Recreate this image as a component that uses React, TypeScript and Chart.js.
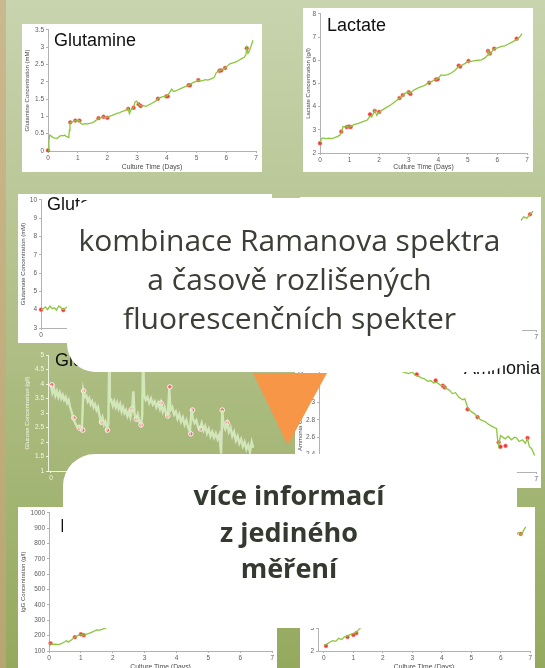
import React, { useEffect, useRef } from "react";
import { Chart, registerables } from "chart.js";
Chart.register(...registerables);

type Pt = [number, number];

const dayTicks = [0, 1, 2, 3, 4, 5, 6, 7];
const xAxisTitle = "Culture Time (Days)";

// ---------- Glutamine ----------
const glutamineTicks = [0, 0.5, 1, 1.5, 2, 2.5, 3, 3.5];
const glutamineTrace: Pt[] = [
  [0, 0.02], [0.03, 0.3], [0.06, 0.46], [0.1, 0.44], [0.15, 0.4], [0.2, 0.38], [0.25, 0.37], [0.3, 0.36],
  [0.35, 0.4], [0.4, 0.43], [0.45, 0.45], [0.5, 0.44], [0.55, 0.46], [0.6, 0.43], [0.65, 0.41], [0.7, 0.39],
  [0.72, 0.6], [0.74, 0.82], [0.8, 0.84], [0.86, 0.85], [0.92, 0.88], [1.0, 0.87], [1.06, 0.88], [1.1, 0.8],
  [1.16, 0.77], [1.24, 0.79], [1.32, 0.78], [1.4, 0.8], [1.48, 0.81], [1.56, 0.85], [1.64, 0.9], [1.7, 0.95],
  [1.78, 0.96], [1.87, 0.99], [1.94, 0.96], [2.0, 0.97], [2.08, 1.01], [2.16, 1.03], [2.24, 1.06], [2.32, 1.09],
  [2.4, 1.1], [2.48, 1.14], [2.56, 1.16], [2.64, 1.19], [2.7, 1.22], [2.74, 1.08], [2.8, 1.2], [2.88, 1.26],
  [2.93, 1.42], [2.98, 1.44], [3.03, 1.38], [3.08, 1.32], [3.14, 1.3], [3.22, 1.31], [3.3, 1.29], [3.38, 1.33],
  [3.46, 1.36], [3.54, 1.4], [3.62, 1.44], [3.7, 1.51], [3.78, 1.54], [3.86, 1.57], [3.94, 1.58], [4.02, 1.6],
  [4.1, 1.7], [4.16, 1.79], [4.22, 1.72], [4.3, 1.74], [4.38, 1.77], [4.46, 1.8], [4.54, 1.83], [4.62, 1.86],
  [4.7, 1.89], [4.78, 1.91], [4.86, 1.97], [4.94, 2.0], [5.02, 2.02], [5.06, 2.05], [5.14, 2.02], [5.22, 2.04],
  [5.3, 2.06], [5.38, 2.05], [5.46, 2.08], [5.54, 2.1], [5.6, 2.14], [5.66, 2.26], [5.72, 2.3], [5.8, 2.33],
  [5.88, 2.36], [5.96, 2.4], [6.04, 2.46], [6.12, 2.52], [6.2, 2.54], [6.28, 2.56], [6.36, 2.59], [6.44, 2.63],
  [6.52, 2.67], [6.6, 2.71], [6.66, 2.78], [6.69, 2.97], [6.73, 2.82], [6.78, 2.9], [6.84, 3.05], [6.9, 3.2],
];
const glutamineMarkers: Pt[] = [
  [0, 0.02], [0.75, 0.83], [0.92, 0.88], [1.06, 0.88], [1.7, 0.95], [1.87, 0.99], [2.0, 0.96], [2.7, 1.22],
  [2.88, 1.25], [3.05, 1.35], [3.12, 1.3], [3.7, 1.51], [3.98, 1.58], [4.03, 1.58], [4.73, 1.9], [4.78, 1.9],
  [5.06, 2.05], [5.77, 2.32], [5.83, 2.33], [5.96, 2.4], [6.69, 2.97],
];

// ---------- Lactate ----------
const lactateTicks = [2, 3, 4, 5, 6, 7, 8];
const lactateTrace: Pt[] = [
  [0, 2.45], [0.05, 2.62], [0.1, 2.65], [0.2, 2.62], [0.3, 2.64], [0.4, 2.62], [0.5, 2.66], [0.6, 2.72],
  [0.68, 2.78], [0.74, 2.94], [0.78, 3.15], [0.85, 3.14], [0.95, 3.12], [1.05, 3.14], [1.15, 3.22], [1.3, 3.28],
  [1.45, 3.35], [1.6, 3.42], [1.69, 3.6], [1.75, 3.55], [1.85, 3.84], [1.92, 3.62], [2.0, 3.76], [2.1, 3.85],
  [2.25, 3.97], [2.4, 4.08], [2.5, 4.18], [2.6, 4.28], [2.69, 4.37], [2.75, 4.4], [2.83, 4.53], [2.92, 4.6],
  [3.0, 4.63], [3.06, 4.57], [3.15, 4.7], [3.3, 4.8], [3.45, 4.87], [3.55, 4.93], [3.69, 5.05], [3.8, 5.1],
  [3.92, 5.18], [4.0, 5.22], [4.09, 5.37], [4.2, 5.35], [4.32, 5.38], [4.45, 5.46], [4.55, 5.55], [4.65, 5.68],
  [4.72, 5.75], [4.83, 5.8], [4.95, 5.9], [5.02, 5.96], [5.12, 5.95], [5.23, 5.98], [5.35, 6.0], [5.46, 6.02],
  [5.58, 6.1], [5.65, 6.2], [5.68, 6.4], [5.74, 6.25], [5.8, 6.35], [5.89, 6.49], [6.0, 6.53], [6.14, 6.6],
  [6.25, 6.62], [6.37, 6.7], [6.5, 6.78], [6.6, 6.86], [6.68, 6.92], [6.75, 7.0], [6.83, 7.15],
];
const lactateMarkers: Pt[] = [
  [0, 2.42], [0.72, 2.92], [0.9, 3.12], [0.98, 3.14], [1.04, 3.12], [1.69, 3.67], [1.85, 3.82], [2.0, 3.77],
  [2.69, 4.37], [2.8, 4.5], [3.0, 4.62], [3.06, 4.55], [3.69, 5.03], [3.92, 5.17], [3.98, 5.18], [4.69, 5.77],
  [4.74, 5.73], [5.02, 5.97], [5.68, 6.4], [5.75, 6.29], [5.89, 6.5], [6.65, 6.93],
];

// ---------- Glutamate ----------
const glutamateTicks = [3, 4, 5, 6, 7, 8, 9, 10];
const glutamateTrace: Pt[] = [
  [0, 4.0], [0.08, 4.05], [0.15, 4.15], [0.22, 4.0], [0.3, 4.2], [0.38, 4.05], [0.45, 4.1], [0.52, 3.98],
  [0.6, 4.2], [0.68, 4.1], [0.75, 4.0], [1.0, 4.3], [1.5, 4.8], [2.0, 5.3], [3.0, 6.0], [4.0, 6.9],
  [5.0, 7.7], [6.0, 8.4], [6.9, 9.1],
];
const glutamateMarkers: Pt[] = [[0, 4.0], [0.75, 3.98], [1.0, 4.3], [2.0, 5.3], [3.0, 6.0]];

// ---------- Glucose ----------
const glucoseTicks = [1, 1.5, 2, 2.5, 3, 3.5, 4, 4.5, 5];
const glucoseTrace: Pt[] = [
  [0, 3.97], [0.05, 3.7], [0.1, 3.85], [0.15, 3.6], [0.2, 3.75], [0.25, 3.55], [0.3, 3.7], [0.35, 3.5],
  [0.4, 3.62], [0.45, 3.45], [0.5, 3.55], [0.55, 3.35], [0.6, 3.45], [0.65, 3.2], [0.7, 3.05], [0.75, 2.85],
  [0.8, 2.7], [0.85, 2.6], [0.9, 2.5], [0.95, 2.55], [1.0, 2.45], [1.05, 2.42], [1.1, 3.78], [1.15, 3.55],
  [1.2, 3.6], [1.25, 3.4], [1.3, 3.5], [1.35, 3.3], [1.4, 3.4], [1.45, 3.2], [1.5, 3.3], [1.55, 3.1],
  [1.6, 3.2], [1.65, 2.9], [1.7, 2.7], [1.75, 2.85], [1.8, 2.6], [1.85, 2.7], [1.9, 2.45], [1.95, 2.6],
  [1.98, 5.0], [2.0, 3.4], [2.05, 3.45], [2.1, 3.25], [2.15, 3.4], [2.2, 3.2], [2.25, 3.35], [2.3, 3.15],
  [2.35, 3.3], [2.4, 3.05], [2.45, 3.2], [2.5, 3.0], [2.55, 3.1], [2.6, 2.9], [2.65, 3.05], [2.7, 2.85],
  [2.76, 3.14], [2.8, 3.75], [2.84, 2.95], [2.9, 2.8], [2.95, 2.95], [3.0, 2.7], [3.06, 2.6], [3.1, 2.9],
  [3.13, 5.0], [3.17, 3.6], [3.22, 3.45], [3.28, 3.55], [3.34, 3.35], [3.4, 3.5], [3.46, 3.3], [3.52, 3.4],
  [3.58, 3.2], [3.64, 3.35], [3.7, 3.15], [3.74, 3.34], [3.8, 3.05], [3.86, 3.2], [3.92, 2.95], [3.97, 2.9],
  [4.02, 3.85], [4.06, 3.1], [4.12, 3.2], [4.18, 2.95], [4.24, 3.05], [4.3, 2.8], [4.36, 2.95], [4.42, 2.7],
  [4.48, 2.85], [4.54, 2.6], [4.6, 2.75], [4.66, 2.5], [4.72, 2.35], [4.78, 3.15], [4.82, 2.8], [4.88, 2.65],
  [4.94, 2.75], [5.0, 2.5], [5.06, 2.45], [5.12, 2.65], [5.18, 2.4], [5.24, 2.55], [5.3, 2.3], [5.36, 2.45],
  [5.42, 2.2], [5.48, 2.35], [5.54, 2.15], [5.6, 2.3], [5.66, 2.1], [5.72, 2.25], [5.78, 1.6], [5.82, 3.1],
  [5.86, 2.6], [5.92, 2.45], [5.99, 2.66], [6.04, 2.35], [6.1, 2.5], [6.16, 2.2], [6.22, 2.35], [6.28, 2.05],
  [6.34, 2.2], [6.4, 1.95], [6.46, 2.1], [6.52, 1.85], [6.58, 2.0], [6.64, 1.75], [6.7, 1.9], [6.76, 1.65],
  [6.82, 2.0], [6.87, 1.8],
];
const glucoseMarkers: Pt[] = [
  [0.03, 3.97], [0.78, 2.83], [0.98, 2.48], [1.08, 2.41], [1.11, 3.76], [1.72, 2.69], [1.92, 2.41], [2.76, 3.14],
  [2.9, 2.79], [3.06, 2.59], [3.74, 3.34], [3.97, 2.9], [4.04, 3.9], [4.75, 2.28], [4.81, 3.1], [5.08, 2.45],
  [5.82, 3.1], [5.99, 2.66],
];

// ---------- Ammonia ----------
const ammoniaTicks = [2.2, 2.4, 2.6, 2.8, 3, 3.2, 3.4, 3.6];
const ammoniaTrace: Pt[] = [
  [0, 3.62], [0.5, 3.57], [1, 3.53], [1.5, 3.49], [2, 3.44], [2.5, 3.38], [2.77, 3.34], [2.9, 3.33],
  [3.0, 3.35], [3.1, 3.31], [3.2, 3.3], [3.3, 3.28], [3.4, 3.27], [3.5, 3.24], [3.6, 3.25], [3.7, 3.22],
  [3.79, 3.23], [3.9, 3.2], [4.0, 3.19], [4.1, 3.16], [4.2, 3.14], [4.3, 3.1], [4.4, 3.11], [4.5, 3.06],
  [4.63, 3.03], [4.7, 3.04], [4.8, 2.93], [4.92, 2.89], [5.0, 2.87], [5.1, 2.84], [5.2, 2.8], [5.27, 2.79],
  [5.35, 2.78], [5.45, 2.75], [5.55, 2.73], [5.65, 2.71], [5.72, 2.7], [5.76, 2.56], [5.79, 2.5], [5.85, 2.62],
  [5.92, 2.6], [6.0, 2.58], [6.1, 2.61], [6.2, 2.57], [6.3, 2.6], [6.37, 2.59], [6.45, 2.55], [6.56, 2.57],
  [6.65, 2.53], [6.72, 2.58], [6.78, 2.49], [6.85, 2.47], [6.95, 2.39],
];
const ammoniaMarkers: Pt[] = [
  [0.75, 3.55], [1.0, 3.53], [2.0, 3.44], [3.15, 3.32], [3.76, 3.25], [3.99, 3.19], [4.05, 3.17], [4.79, 2.92],
  [5.11, 2.83], [5.79, 2.54], [5.85, 2.49], [6.01, 2.5], [6.72, 2.59],
];

// ---------- Second-row right panel (mostly covered) ----------
const rowTwoTicks = [0, 2, 4, 6, 8, 10];
const rowTwoTrace: Pt[] = [
  [0, 1.0], [1, 2.2], [2, 3.5], [3, 4.8], [4, 6.0], [5, 7.1], [6, 8.1], [6.5, 8.6], [6.6, 8.9],
  [6.7, 8.8], [6.8, 9.1], [6.9, 9.35],
];
const rowTwoMarkers: Pt[] = [[1, 2.2], [3, 4.8], [6.8, 9.1]];

// ---------- IgG ----------
const iggTicks = [100, 200, 300, 400, 500, 600, 700, 800, 900, 1000];
const iggTrace: Pt[] = [
  [0, 148], [0.1, 143], [0.2, 145], [0.3, 142], [0.4, 150], [0.5, 160], [0.55, 168], [0.6, 158], [0.7, 172],
  [0.8, 188], [0.9, 200], [1.0, 207], [1.1, 204], [1.2, 212], [1.3, 218], [1.4, 228], [1.5, 238], [1.6, 236],
  [1.7, 244], [2.0, 268], [3.0, 340], [4.0, 440], [5.0, 570], [6.0, 720], [6.8, 860],
];
const iggMarkers: Pt[] = [[0.05, 150], [0.81, 190], [1.0, 209], [1.09, 203], [2.0, 268], [3.0, 340]];

// ---------- Bottom-right panel (mostly covered) ----------
const bottomRightTicks = [2, 3, 4, 5, 6, 7, 8];
const bottomRightTrace: Pt[] = [
  [0, 2.25], [0.1, 2.3], [0.2, 2.38], [0.3, 2.45], [0.4, 2.42], [0.5, 2.55], [0.6, 2.5], [0.7, 2.62],
  [0.8, 2.65], [0.9, 2.72], [1.0, 2.75], [1.1, 2.82], [1.2, 2.95], [1.3, 3.08], [2, 3.6], [3, 4.3],
  [4, 5.1], [5, 5.9], [6, 6.6], [6.4, 6.95], [6.5, 7.0], [6.6, 7.15], [6.7, 7.05], [6.8, 7.3], [6.85, 7.4],
];
const bottomRightMarkers: Pt[] = [[0.07, 2.22], [0.8, 2.61], [1.0, 2.7], [1.1, 2.78], [6.68, 7.09]];

// ---------- panel layout (page pixel boxes) ----------
interface Spec {
  key: string;
  box: [number, number, number, number]; // left, top, right, bottom
  plot: [number, number, number, number]; // left, top, right, bottom
  xMin: number;
  yTicks: number[];
  trace: Pt[];
  markers: Pt[];
  yTitle?: string;
  xTitle?: string;
  title?: { text: string; x: number; y: number };
  onGreen?: boolean;
}

const panels: Spec[] = [
  { key: "gln", box: [22, 24, 262, 172], plot: [48, 27, 256, 151], xMin: 0, yTicks: glutamineTicks,
    trace: glutamineTrace, markers: glutamineMarkers, yTitle: "Glutamine Concentration (mM)", xTitle: xAxisTitle,
    title: { text: "Glutamine", x: 54, y: 31 } },
  { key: "lac", box: [303, 8, 533, 172], plot: [320, 11, 527, 153], xMin: 0, yTicks: lactateTicks,
    trace: lactateTrace, markers: lactateMarkers, yTitle: "Lactate Concentration (g/l)", xTitle: xAxisTitle,
    title: { text: "Lactate", x: 327, y: 16 } },
  { key: "glu", box: [18, 194, 272, 343], plot: [41, 197, 249, 328], xMin: 0, yTicks: glutamateTicks,
    trace: glutamateTrace, markers: glutamateMarkers, yTitle: "Glutamate Concentration (mM)", xTitle: xAxisTitle,
    title: { text: "Glutamate", x: 47, y: 195 } },
  { key: "r2", box: [300, 197, 541, 343], plot: [319, 200, 537, 330], xMin: 0, yTicks: rowTwoTicks,
    trace: rowTwoTrace, markers: rowTwoMarkers, xTitle: xAxisTitle },
  { key: "glc", box: [22, 343, 262, 493], plot: [48, 355, 257, 471], xMin: -0.1, yTicks: glucoseTicks,
    trace: glucoseTrace, markers: glucoseMarkers, yTitle: "Glucose Concentration (g/l)", xTitle: xAxisTitle,
    title: { text: "Glucose", x: 55, y: 351 }, onGreen: true },
  { key: "nh4", box: [295, 343, 541, 488], plot: [319, 350, 537, 472], xMin: 0, yTicks: ammoniaTicks,
    trace: ammoniaTrace, markers: ammoniaMarkers, yTitle: "Ammonia Concentration (mM)", xTitle: xAxisTitle,
    title: { text: "Ammonia", x: 464, y: 359 } },
  { key: "igg", box: [18, 507, 277, 672], plot: [49, 511, 274, 651], xMin: 0, yTicks: iggTicks,
    trace: iggTrace, markers: iggMarkers, yTitle: "IgG Concentration (g/l)", xTitle: xAxisTitle,
    title: { text: "IgG", x: 60, y: 517 } },
  { key: "br", box: [300, 507, 535, 672], plot: [318, 513, 533, 651], xMin: -0.2, yTicks: bottomRightTicks,
    trace: bottomRightTrace, markers: bottomRightMarkers, xTitle: xAxisTitle },
];

const FONT = "'Liberation Sans', Arial, sans-serif";

function Panel({ s }: { s: Spec }) {
  const ref = useRef<HTMLCanvasElement>(null);
  const [bl, bt, br, bb] = s.box;
  const [pl, pt, pr, pb] = s.plot;
  const w = br - bl;
  const h = bb - bt;

  useEffect(() => {
    if (!ref.current) return;
    const tickColor = s.onGreen ? "#f3f6ea" : "#5c5c5c";
    const axisColor = s.onGreen ? "#eef3e0" : "#b2b2b2";
    const titleColor = s.onGreen ? "#f3f6ea" : "#4a4a4a";
    const lineData = s.trace.map(([x, y]) => ({ x, y }));
    const markData = s.markers.map(([x, y]) => ({ x, y }));
    const datasets: any[] = [];
    if (s.onGreen) {
      datasets.push({ data: lineData, showLine: true, borderColor: "rgba(255,255,255,0.55)", borderWidth: 2.4,
        pointRadius: 0, tension: 0 });
    }
    datasets.push({ data: lineData, showLine: true, borderColor: s.onGreen ? "#92d255" : "#8cc63f",
      borderWidth: s.onGreen ? 1.1 : 1.3, pointRadius: 0, tension: 0 });
    datasets.push({ data: markData, showLine: false, pointRadius: s.onGreen ? 2.3 : 1.9,
      pointBackgroundColor: s.onGreen ? "#f06a6a" : "#f23535",
      pointBorderColor: s.onGreen ? "rgba(255,255,255,0.9)" : "rgba(255,110,110,0.7)", pointBorderWidth: s.onGreen ? 1 : 0.8,
      clip: 4 });
    const yT = s.yTicks;
    const chart = new Chart(ref.current, {
      type: "scatter",
      data: { datasets },
      options: {
        responsive: false,
        animation: false,
        events: [],
        layout: { padding: { left: 0, top: pt - bt, right: br - pr, bottom: 0 } },
        plugins: { legend: { display: false }, tooltip: { enabled: false } },
        scales: {
          x: {
            type: "linear",
            min: s.xMin,
            max: 7,
            afterBuildTicks: (a: any) => { a.ticks = dayTicks.map((v) => ({ value: v })); },
            afterFit: (a: any) => { a.height = bb - pb; },
            ticks: { color: tickColor, font: { size: 6.5, family: FONT }, padding: 1, maxRotation: 0, autoSkip: false,
              callback: (v: any) => String(v) },
            grid: { display: true, drawOnChartArea: false, drawTicks: true, tickLength: 2, color: axisColor },
            border: { display: true, color: axisColor, width: 1 },
            title: { display: !!s.xTitle, text: s.xTitle || "", color: titleColor, font: { size: 6.8, family: FONT },
              padding: { top: 0, bottom: 1 } },
          },
          y: {
            type: "linear",
            min: yT[0],
            max: yT[yT.length - 1],
            afterBuildTicks: (a: any) => { a.ticks = yT.map((v) => ({ value: v })); },
            afterFit: (a: any) => { a.width = pl - bl; },
            ticks: { color: tickColor, font: { size: 6.5, family: FONT }, padding: 2, autoSkip: false,
              callback: (v: any) => String(v) },
            grid: { display: true, drawOnChartArea: false, drawTicks: true, tickLength: 2, color: axisColor },
            border: { display: true, color: axisColor, width: 1 },
            title: { display: !!s.yTitle, text: s.yTitle || "", color: titleColor, font: { size: 6, family: FONT },
              padding: { top: 2, bottom: 0 } },
          },
        },
      } as any,
    });
    return () => chart.destroy();
  }, []);

  return (
    <div style={{ position: "absolute", left: bl, top: bt, width: w, height: h, background: s.onGreen ? "transparent" : "#ffffff" }}>
      <canvas ref={ref} width={w} height={h} style={{ display: "block", width: w, height: h }} />
      {s.title && (
        <div style={{ position: "absolute", left: s.title.x - bl, top: s.title.y - bt, font: `18px ${FONT}`,
          lineHeight: "18px", color: "#111", whiteSpace: "nowrap" }}>{s.title.text}</div>
      )}
    </div>
  );
}

const calloutOneLines = ["kombinace Ramanova spektra", "a časově rozlišených", "fluorescenčních spekter"];
const calloutTwoLines = ["více informací", "z jediného", "měření"];

export default function App() {
  return (
    <div style={{ position: "absolute", left: 0, top: 0, width: 545, height: 668, overflow: "hidden",
      background: "linear-gradient(180deg, #c8d4ae 0%, #bac797 30%, #a9ba7d 62%, #95a95e 100%)" }}>
      <div style={{ position: "absolute", left: 0, top: 0, width: 6, height: 668,
        background: "linear-gradient(180deg, #cbb98e 0%, #b8a571 100%)" }} />
      {panels.map((s) => <Panel key={s.key} s={s} />)}
      <div style={{ position: "absolute", left: 253, top: 373, width: 74, height: 72, background: "#f79646",
        clipPath: "polygon(0 0, 100% 0, 47% 100%)" }} />
      <div style={{ position: "absolute", left: 67, top: 198, width: 455, height: 174, background: "#ffffff",
        borderRadius: "32px 30px 40px 28px" }} />
      <div style={{ position: "absolute", left: 67, top: 220, width: 445, textAlign: "center",
        font: "30px 'Open Sans', sans-serif", lineHeight: "39px", color: "#3b3f37" }}>
        {calloutOneLines.map((t) => <div key={t}>{t}</div>)}
      </div>
      <div style={{ position: "absolute", left: 63, top: 454, width: 454, height: 174, background: "#ffffff",
        borderRadius: "32px 20px 20px 40px" }} />
      <div style={{ position: "absolute", left: 63, top: 477, width: 452, textAlign: "center",
        font: "bold 27px 'Open Sans', sans-serif", lineHeight: "36.5px", color: "#343a30" }}>
        {calloutTwoLines.map((t) => <div key={t}>{t}</div>)}
      </div>
    </div>
  );
}
